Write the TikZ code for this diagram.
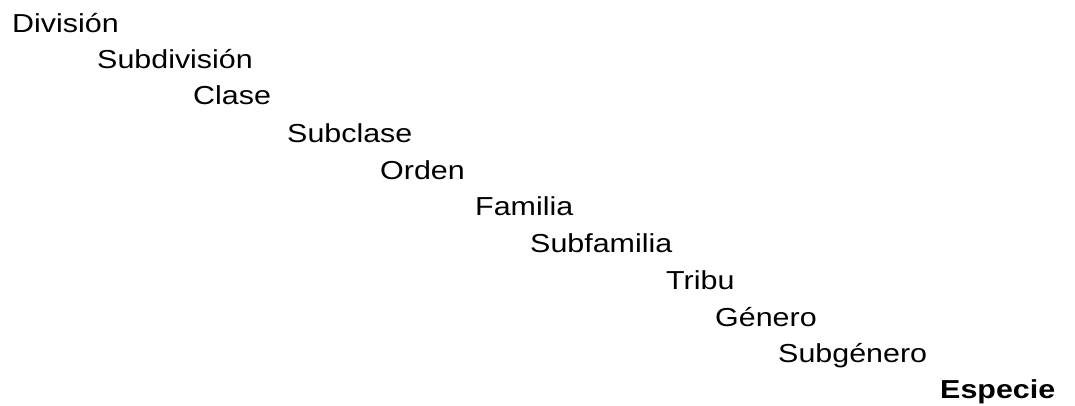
\documentclass[tikz,border=0pt]{standalone}
\usepackage{fontspec}
\setmainfont{Liberation Sans}

\begin{document}
\begin{tikzpicture}[x=1pt,y=1pt,
   rango/.style={anchor=base west,inner sep=0pt,font=\fontsize{26}{30}\selectfont,xscale=1.17,transform shape}]
   \useasboundingbox (0,0) rectangle (1075,-405);

   \node[rango] (division) at (12,-32) {División};
   \node[rango] (subdivision) at (97,-68) {Subdivisión};
   \node[rango] (clase) at (193,-104) {Clase};
   \node[rango] (subclase) at (287,-142) {Subclase};
   \node[rango] (orden) at (380,-179) {Orden};
   \node[rango] (familia) at (475,-215) {Familia};
   \node[rango] (subfamilia) at (530,-252) {Subfamilia};
   \node[rango] (tribu) at (666,-289) {Tribu};
   \node[rango] (genero) at (715,-326) {Género};
   \node[rango] (subgenero) at (778,-362) {Subgénero};
   %especie en negrita
   \node[rango,font=\fontsize{26}{30}\selectfont\bfseries] (especie) at (940,-398) {Especie};
\end{tikzpicture}
\end{document}
